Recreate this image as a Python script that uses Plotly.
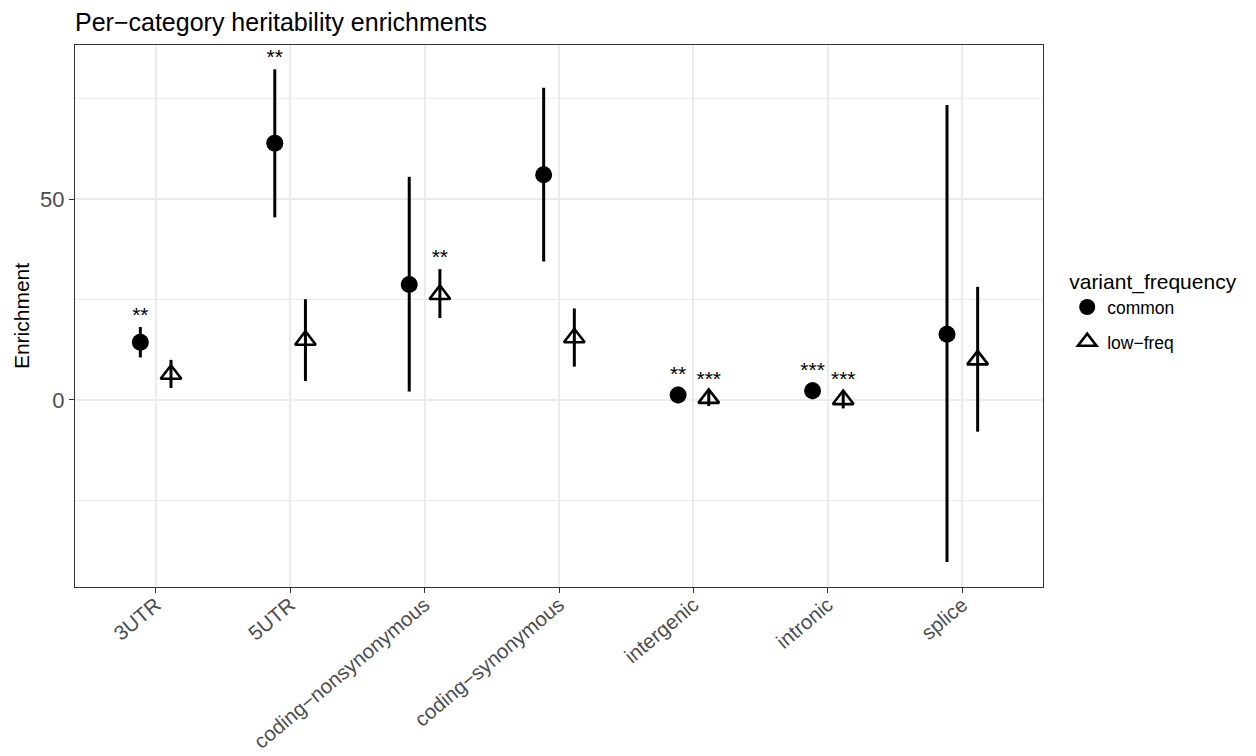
import plotly.graph_objects as go

categories = ["3UTR", "5UTR", "coding−nonsynonymous", "coding−synonymous",
              "intergenic", "intronic", "splice"]

common_value = [14.4, 64.0, 28.8, 56.1, 1.25, 2.3, 16.4]
common_upper = [18.2, 82.4, 55.6, 77.8, 3.3, 4.4, 73.5]
common_lower = [10.6, 45.5, 2.1, 34.5, -0.8, 0.2, -40.4]
common_stars = ["**", "**", "", "", "**", "***", ""]

lowfreq_value = [6.4, 14.9, 26.3, 15.5, 0.4, 0.1, 10.0]
lowfreq_upper = [10.0, 25.1, 32.6, 22.8, 2.3, 2.3, 28.2]
lowfreq_lower = [3.0, 4.7, 20.4, 8.3, -1.5, -2.1, -7.9]
lowfreq_stars = ["", "", "**", "", "***", "***", ""]

y_tick_values = [0, 50]

FONT = "Liberation Sans, Arial, Helvetica, sans-serif"
DODGE = 0.114

idx = list(range(len(categories)))
x_common = [i - DODGE for i in idx]
x_low = [i + DODGE for i in idx]

fig = go.Figure()

fig.add_trace(go.Scatter(
    x=x_common, y=common_value, mode="markers", name="common", legendgroup="common",
    marker=dict(symbol="circle", size=17, color="black"),
    error_y=dict(type="data", symmetric=False,
                 array=[u - v for u, v in zip(common_upper, common_value)],
                 arrayminus=[v - l for v, l in zip(common_value, common_lower)],
                 thickness=3, width=0, color="black"),
))
fig.add_trace(go.Scatter(
    x=x_low, y=lowfreq_value, mode="markers", name="low−freq", legendgroup="low",
    marker=dict(symbol="triangle-up-open", size=18, color="black",
                line=dict(width=2.6, color="black")),
    error_y=dict(type="data", symmetric=False,
                 array=[u - v for u, v in zip(lowfreq_upper, lowfreq_value)],
                 arrayminus=[v - l for v, l in zip(lowfreq_value, lowfreq_lower)],
                 thickness=3, width=0, color="black"),
))

fig.add_trace(go.Scatter(
    x=x_common, y=common_upper, mode="text", text=common_stars,
    textposition="top center", showlegend=False, hoverinfo="skip",
    textfont=dict(family=FONT, size=21, color="black"),
))
fig.add_trace(go.Scatter(
    x=x_low, y=lowfreq_upper, mode="text", text=lowfreq_stars,
    textposition="top center", showlegend=False, hoverinfo="skip",
    textfont=dict(family=FONT, size=21, color="black"),
))

W, H = 1248, 748
fig.update_layout(
    width=W, height=H,
    margin=dict(l=67, r=213, t=37, b=169, autoexpand=False),
    paper_bgcolor="white", plot_bgcolor="white",
    font=dict(family=FONT, color="black"),
    title=dict(text="Per−category heritability enrichments",
               x=67 / W, xanchor="left", xref="container",
               y=1 - 14 / H, yanchor="middle", yref="container",
               font=dict(size=25, color="black", family=FONT)),
    legend=dict(
        title=dict(text="variant_frequency", font=dict(size=21, family=FONT, color="black")),
        font=dict(size=17.5, family=FONT, color="black"),
        x=1.025, xanchor="left", y=0.6, yanchor="top",
        bgcolor="rgba(0,0,0,0)", tracegroupgap=9,
    ),
    showlegend=True,
)

fig.update_xaxes(
    range=[-0.6, len(categories) - 0.4], automargin=False,
    tickmode="array", tickvals=idx, ticktext=categories,
    tickangle=-40, tickfont=dict(size=20.5, color="#4D4D4D", family=FONT),
    ticklabelstandoff=-8,
    ticks="outside", ticklen=5, tickwidth=1.3, tickcolor="#333333",
    showgrid=True, gridcolor="#EBEBEB", gridwidth=1.8,
    showline=True, linecolor="#333333", linewidth=1, mirror=True,
    zeroline=False,
)
fig.update_yaxes(
    range=[-46.6, 88.45], automargin=False,
    tickmode="array", tickvals=y_tick_values,
    tickfont=dict(size=22, color="#4D4D4D", family=FONT),
    ticks="outside", ticklen=5, tickwidth=1.3, tickcolor="#333333",
    showgrid=True, gridcolor="#EBEBEB", gridwidth=1.8,
    minor=dict(tickmode="array", tickvals=[-25, 25, 75], showgrid=True,
               gridcolor="#EBEBEB", gridwidth=1.2, ticks=""),
    showline=True, linecolor="#333333", linewidth=1, mirror=True,
    zeroline=False,
    title=dict(text="Enrichment", font=dict(size=21, color="black", family=FONT), standoff=4),
)

fig.write_html("out.html")
